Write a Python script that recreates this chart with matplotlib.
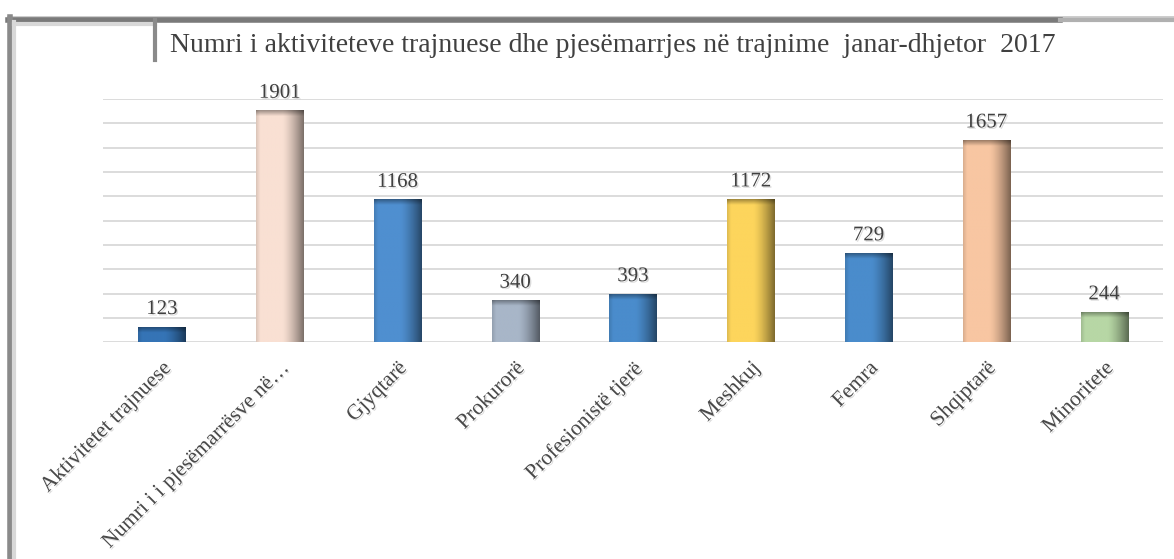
"""Training activities and participation chart, Jan-Dec 2017."""

import matplotlib
matplotlib.use("Agg")
import matplotlib.pyplot as plt
import matplotlib.patheffects as pe
import numpy as np
from matplotlib.colors import to_rgb
from matplotlib.lines import Line2D

TITLE = "Numri i aktiviteteve trajnuese dhe pjesëmarrjes në trajnime  janar-dhjetor  2017"
CATEGORIES = [
    "Aktivitetet trajnuese",
    "Numri i i pjesëmarrësve në…",
    "Gjyqtarë",
    "Prokurorë",
    "Profesionistë tjerë",
    "Meshkuj",
    "Femra",
    "Shqiptarë",
    "Minoritete",
]
VALUES = [123, 1901, 1168, 340, 393, 1172, 729, 1657, 244]
COLORS = ["#3574b6", "#f9e0d3", "#4f8fd0", "#a8b6c8", "#4a8ccc",
          "#fdd55c", "#4a8ccc", "#f8c6a2", "#b7d7a5"]

W, H = 1174, 559
SERIF = ["Liberation Serif", "DejaVu Serif"]
TEXT_COLOR = "#404040"

fig = plt.figure(figsize=(W / 100, H / 100), dpi=100)
fig.patch.set_facecolor("white")
ax = fig.add_axes([103 / W, 1 - 342.3 / H, 1060 / W, (342.3 - 99) / H])

x = np.arange(len(VALUES))
bar_w = 0.4
bars = ax.bar(x, VALUES, width=bar_w, color=COLORS, zorder=3)

# shaded fill over each bar (darker toward right edge and top)
top_band = 45
for rect, color in zip(bars, COLORS):
    x0, w, h = rect.get_x(), rect.get_width(), rect.get_height()
    u = np.linspace(0, 1, 60)
    v = np.linspace(h, 0, 200)
    sx = 1 - 0.5 * np.clip((u - 0.55) / 0.45, 0, 1) ** 1.4
    sx = sx * (1 - 0.12 * np.clip((0.08 - u) / 0.08, 0, 1))
    sy = 1 - 0.35 * np.clip(1 - (h - v) / top_band, 0, 1)
    shade = sy[:, None] * sx[None, :]
    img = np.ones((len(v), len(u), 3)) * np.array(to_rgb(color))
    img = img * shade[:, :, None]
    ax.imshow(img, extent=(x0, x0 + w, 0, h), aspect="auto",
              interpolation="bilinear", zorder=4)

shadow = [pe.SimplePatchShadow(offset=(1, -1), alpha=0.15), pe.Normal()]
for xi, val in zip(x, VALUES):
    ax.annotate(str(val), (xi, val), xytext=(0, 6), textcoords="offset points",
                ha="center", va="bottom", fontsize=15, family=SERIF,
                color=TEXT_COLOR, zorder=5, path_effects=shadow)

ax.set_xlim(-0.5, len(VALUES) - 0.5)
ax.set_ylim(0, 2000)
ax.set_yticks(np.arange(0, 2001, 200))
ax.yaxis.grid(True, color="#d9d9d9", lw=1.3, zorder=0)
ax.tick_params(axis="y", left=False, labelleft=False)
ax.tick_params(axis="x", length=0, pad=12)
ax.set_xticks(x)
ax.set_xticklabels(CATEGORIES, rotation=45, ha="right", va="top",
                   rotation_mode="anchor", fontsize=15.5, family=SERIF,
                   color="#4a4a4a")
for lbl in ax.get_xticklabels():
    lbl.set_path_effects(shadow)
for side in ["top", "right", "left", "bottom"]:
    ax.spines[side].set_visible(False)

fig.text(170 / W, 1 - 45 / H, TITLE, ha="left", va="center", fontsize=20,
         family=SERIF, color=TEXT_COLOR)


def fig_line(xs, ys, **kw):
    fig.add_artist(Line2D([p / W for p in xs], [1 - p / H for p in ys],
                          transform=fig.transFigure, **kw))


# outer frame with shadow
fig_line([8, W], [17, 17], color="#c8c8c8", lw=2)
fig_line([8, 1060], [20, 20], color="#7a7a7a", lw=4)
fig_line([1060, W], [20, 20], color="#b0b0b0", lw=3)
fig_line([10, 10], [17, H], color="#8a8a8a", lw=4)
fig_line([14, 14], [22, H], color="#d8d8d8", lw=3)
fig_line([14, 155], [24, 24], color="#d8d8d8", lw=3)
# title box shadow
fig_line([155, 155], [20, 60], color="#8a8a8a", lw=3)

fig.savefig("out.png", dpi=100)
